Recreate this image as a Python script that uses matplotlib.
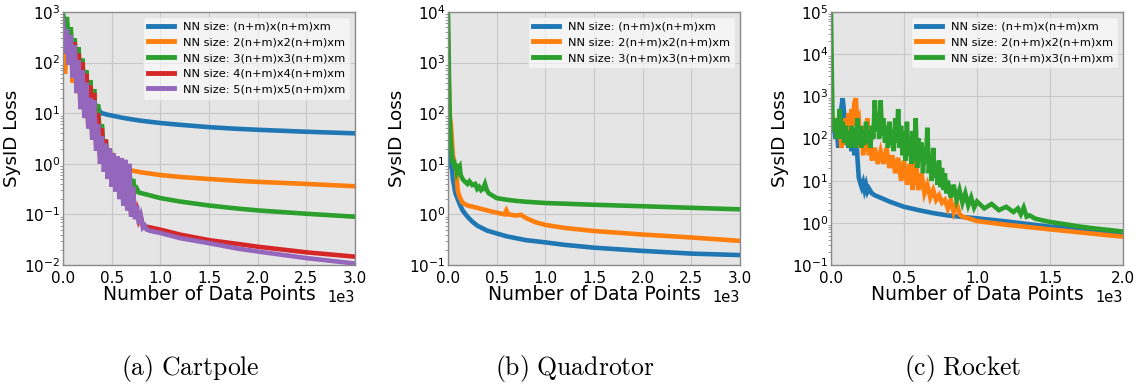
import numpy as np
import matplotlib
matplotlib.use("Agg")
import matplotlib.pyplot as plt
from matplotlib.ticker import MultipleLocator, LogLocator

plt.rcParams['font.family'] = ['DejaVu Sans']
plt.rcParams['mathtext.fontset'] = 'cm'

labels5 = ["NN size: (n+m)x(n+m)xm", "NN size: 2(n+m)x2(n+m)xm",
           "NN size: 3(n+m)x3(n+m)xm", "NN size: 4(n+m)x4(n+m)xm",
           "NN size: 5(n+m)x5(n+m)xm"]
colors = ["#1f77b4", "#ff7f0e", "#2ca02c", "#d62728", "#9467bd"]
captions = [r"$\mathrm{(a)\ Cartpole}$", r"$\mathrm{(b)\ Quadrotor}$", r"$\mathrm{(c)\ Rocket}$"]

# ---------------- Cartpole ----------------
cp_blue_x = [0, 20, 40, 60, 80, 100, 120, 140, 160, 180, 200, 220, 240, 260, 280, 300, 320, 340, 360, 380,
             400, 450, 500, 600, 700, 800, 1000, 1200, 1500, 1800, 2000, 2500, 3000]
cp_blue_y = [900, 300, 600, 150, 300, 80, 150, 50, 80, 35, 50, 25, 35, 18, 25, 14, 18, 12, 13, 10.5,
             10, 9.4, 9.0, 8.2, 7.6, 7.1, 6.4, 5.9, 5.3, 4.9, 4.7, 4.3, 4.0]

cp_orange_x = [0, 20, 40, 60, 80, 100, 120, 140, 160, 180, 200, 220, 240, 260, 280, 300, 320, 340, 360, 380,
               400, 420, 440, 460, 480, 500, 520, 540, 560, 580, 600, 620, 640,
               700, 800, 1000, 1200, 1500, 1800, 2000, 2500, 3000]
cp_orange_y = [400, 60, 250, 100, 400, 40, 150, 25, 80, 15, 40, 10, 25, 6, 15, 4, 10, 2.5, 5, 1.5,
               3, 1.2, 2, 1.0, 1.5, 0.9, 1.2, 0.85, 1.0, 0.82, 0.9, 0.8, 0.8,
               0.74, 0.68, 0.6, 0.55, 0.5, 0.46, 0.44, 0.4, 0.36]

cp_green_x = [0, 20, 40, 60, 80, 100, 120, 140, 160, 180, 200, 220, 240, 260, 280, 300, 320, 340, 360, 380,
              400, 420, 440, 460, 480, 500, 520, 540, 560, 580, 600, 620, 640, 660, 680, 700, 720, 740, 760, 780,
              850, 1000, 1200, 1500, 1800, 2000, 2500, 3000]
cp_green_y = [900, 300, 800, 200, 500, 100, 300, 60, 200, 40, 120, 25, 70, 15, 45, 10, 30, 6, 15, 3,
              6, 1.5, 3, 0.9, 2, 0.6, 1.5, 0.45, 1.2, 0.4, 1.1, 0.35, 1.0, 0.3, 0.8, 0.3, 0.5, 0.28, 0.32, 0.27,
              0.25, 0.21, 0.18, 0.15, 0.13, 0.12, 0.103, 0.09]

cp_red_x = [0, 20, 40, 60, 80, 100, 120, 140, 160, 180, 200, 220, 240, 260, 280, 300, 320, 340, 360, 380,
            400, 420, 440, 460, 480, 500, 520, 540, 560, 580, 600, 620, 640, 660, 680, 700, 720, 740, 760, 780,
            800, 820, 840, 900, 1000, 1200, 1500, 1800, 2000, 2500, 3000]
cp_red_y = [500, 200, 300, 150, 250, 70, 250, 40, 150, 20, 100, 15, 60, 12, 35, 6, 25, 3, 10, 2,
            5, 1.0, 3, 0.6, 2, 0.45, 1.5, 0.3, 1.2, 0.25, 1.2, 0.18, 1.1, 0.14, 0.8, 0.1, 0.3, 0.09, 0.12, 0.075,
            0.09, 0.06, 0.058, 0.055, 0.05, 0.04, 0.031, 0.026, 0.023, 0.0178, 0.0146]

cp_purple_x = [0, 20, 40, 60, 80, 100, 120, 140, 160, 180, 200, 220, 240, 260, 280, 300, 320, 340, 360, 380,
               400, 420, 440, 460, 480, 500, 520, 540, 560, 580, 600, 620, 640, 660, 680, 700, 720, 740, 760, 780,
               800, 820, 840, 860, 900, 1000, 1200, 1500, 1800, 2000, 2500, 3000]
cp_purple_y = [700, 150, 450, 90, 350, 50, 220, 25, 110, 12, 70, 8, 40, 5, 20, 3, 18, 1.8, 6, 1.0,
               3.5, 0.7, 2.5, 0.5, 2.0, 0.35, 1.6, 0.28, 1.4, 0.2, 1.3, 0.15, 1.2, 0.12, 1.0, 0.09, 0.35, 0.08, 0.15, 0.065,
               0.09, 0.055, 0.06, 0.05, 0.047, 0.043, 0.034, 0.027, 0.021, 0.0185, 0.0137, 0.0107]

# ---------------- Quadrotor ----------------
qd_blue_x = [0, 10, 20, 30, 40, 50, 60, 70, 80, 100, 120, 150, 200, 250, 300, 400, 500, 600, 800,
             1000, 1200, 1500, 2000, 2500, 3000]
qd_blue_y = [20, 12, 15, 8, 9, 5, 4, 3, 2.5, 2.0, 1.6, 1.2, 0.9, 0.72, 0.6, 0.48, 0.42, 0.37, 0.31,
             0.28, 0.25, 0.22, 0.19, 0.168, 0.157]

qd_orange_x = [0, 10, 20, 30, 40, 50, 60, 70, 80, 90, 100, 110, 130, 150, 200, 300, 400, 500, 580, 600, 620,
               700, 750, 800, 900, 1000, 1200, 1500, 2000, 2500, 3000]
qd_orange_y = [2500, 300, 80, 60, 30, 15, 12, 8, 10, 5, 3, 2.5, 2, 1.7, 1.5, 1.35, 1.2, 1.08, 1.0, 1.2, 1.0,
               0.95, 0.98, 0.85, 0.7, 0.62, 0.54, 0.47, 0.4, 0.35, 0.30]

qd_green_x = [0, 5, 10, 15, 20, 30, 40, 50, 60, 70, 80, 90, 100, 120, 130, 150, 170, 200, 220, 250, 280, 300,
              320, 340, 360, 380, 400, 420, 450, 500, 600, 700, 800, 1000, 1500, 2000, 2500, 3000]
qd_green_y = [10000, 3000, 500, 150, 60, 25, 15, 10, 12, 8, 10, 7, 8, 9, 6, 5, 4.5, 4, 4.5, 3.8, 4, 3.2,
              3.5, 3, 3.2, 4.0, 3.0, 2.6, 2.4, 2.1, 1.95, 1.85, 1.78, 1.68, 1.55, 1.45, 1.35, 1.26]

# ---------------- Rocket ----------------
rk_blue_x = [0, 10, 20, 30, 40, 50, 60, 70, 80, 90, 100, 110, 120, 130, 140, 150, 160, 170, 180, 190, 200,
             210, 220, 230, 240, 250, 260, 280, 300, 350, 400, 500, 600, 700, 800, 900, 1000, 1200, 1500,
             1800, 2000]
rk_blue_y = [250, 150, 200, 100, 150, 60, 150, 500, 900, 400, 100, 200, 60, 150, 50, 180, 40, 150, 40, 12, 9,
             7, 9, 6, 8, 5.5, 6.5, 5, 4.5, 3.8, 3.2, 2.4, 2.0, 1.7, 1.5, 1.38, 1.28, 1.08, 0.81,
             0.65, 0.56]

rk_orange_x = [0, 10, 20, 30, 40, 50, 60, 70, 80, 90, 100, 110, 120, 130, 140, 150, 160, 170, 180, 190, 200,
               210, 220, 230, 240, 250, 260, 270, 280, 300, 320, 340, 360, 380, 400, 420, 440, 460, 480, 500,
               520, 540, 560, 580, 590, 600, 620, 640, 660, 680, 700, 720, 740, 760, 780, 800, 820, 840, 860,
               880, 900, 950, 1000, 1200, 1500, 1800, 2000]
rk_orange_y = [300, 150, 250, 200, 300, 150, 250, 60, 100, 70, 300, 120, 400, 150, 500, 200, 700, 900, 250, 300, 60,
               150, 40, 200, 50, 300, 40, 80, 30, 60, 25, 50, 25, 60, 20, 40, 15, 35, 10, 30,
               8, 25, 6, 80, 10, 6, 15, 5, 8, 4, 6, 3.5, 4.5, 3, 3.5, 2.2, 3.5, 1.8, 3,
               1.6, 1.4, 1.25, 1.1, 0.9, 0.7, 0.55, 0.47]

rk_green_x = [0, 5, 10, 20, 30, 40, 50, 60, 70, 80, 90, 100, 110, 120, 130, 140, 150, 160, 170, 180, 190, 200,
              210, 220, 230, 240, 250, 260, 270, 280, 290, 300, 310, 320, 330, 340, 350, 360, 370, 380, 390, 400,
              410, 420, 430, 440, 450, 460, 470, 480, 490, 500, 510, 520, 530, 540, 550, 560, 570, 580, 590, 600,
              610, 620, 630, 640, 650, 660, 670, 680, 690, 700, 710, 720, 730, 740, 750, 760, 770, 780, 790, 800,
              820, 840, 860, 880, 900, 920, 940, 960, 980, 1000, 1050, 1100, 1150, 1200, 1250, 1280, 1300, 1320,
              1340, 1360, 1400, 1500, 1600, 1700, 1800, 1900, 2000]
rk_green_y = [100000, 5000, 300, 150, 300, 100, 200, 500, 100, 250, 80, 200, 70, 150, 60, 200, 80, 150, 60, 300, 70, 200,
              60, 150, 70, 250, 80, 150, 60, 200, 100, 800, 150, 400, 100, 800, 120, 300, 80, 200, 60, 250,
              70, 150, 50, 300, 80, 500, 60, 200, 40, 150, 30, 250, 40, 100, 25, 150, 30, 300, 20, 100,
              30, 80, 15, 60, 25, 180, 15, 40, 10, 60, 12, 25, 8, 30, 7, 20, 6, 15, 5, 10,
              4, 8, 3.5, 6, 3, 5, 2.6, 4, 2.3, 3.2, 2.2, 2.8, 2.0, 2.4, 1.8, 2.2, 1.6, 2.3,
              1.4, 1.5, 1.25, 1.05, 0.93, 0.82, 0.74, 0.68, 0.62]

panels = [
    ([(cp_blue_x, cp_blue_y), (cp_orange_x, cp_orange_y), (cp_green_x, cp_green_y),
      (cp_red_x, cp_red_y), (cp_purple_x, cp_purple_y)], 3000, (1e-2, 1e3)),
    ([(qd_blue_x, qd_blue_y), (qd_orange_x, qd_orange_y), (qd_green_x, qd_green_y)], 3000, (1e-1, 1e4)),
    ([(rk_blue_x, rk_blue_y), (rk_orange_x, rk_orange_y), (rk_green_x, rk_green_y)], 2000, (1e-1, 1e5)),
]

W, H = 1139, 385
fig = plt.figure(figsize=(W / 100, H / 100), dpi=100)
lefts = [63, 448, 831]
caption_x = [190, 575, 963]
for i, (series, xmax, ylim) in enumerate(panels):
    ax = fig.add_axes([lefts[i] / W, (H - 265) / H, 292 / W, 253 / H])
    ax.set_facecolor('#E5E5E5')
    for j, (xs, ys) in enumerate(series):
        ax.plot(xs, ys, color=colors[j], lw=3.3, label=labels5[j], solid_joinstyle='miter')
    ax.set_yscale('log')
    ax.set_xlim(0, xmax)
    ax.set_ylim(*ylim)
    ax.xaxis.set_major_locator(MultipleLocator(500))
    ax.yaxis.set_major_locator(LogLocator(base=10, numticks=20))
    ax.ticklabel_format(style='sci', axis='x', scilimits=(0, 0))
    ax.xaxis.get_offset_text().set_fontsize(10.5)
    ax.grid(True, which='major', color='#C8C8C8', lw=0.8)
    ax.set_axisbelow(True)
    for s in ax.spines.values():
        s.set_color('#8A8A8A')
        s.set_linewidth(1.0)
    ax.tick_params(axis='both', which='major', labelsize=11, length=0)
    ax.tick_params(axis='x', which='major', pad=4.5)
    ax.tick_params(axis='y', which='major', pad=2)
    ax.tick_params(axis='y', which='minor', length=2, color='#8A8A8A')
    ax.set_xlabel('Number of Data Points', fontsize=13.5, labelpad=-1)
    ax.set_ylabel('SysID Loss', fontsize=13.2, labelpad=2)
    leg = ax.legend(loc='upper right', fontsize=8.2, handlelength=2.3, labelspacing=0.5,
                    borderaxespad=0.4, borderpad=0.45, framealpha=0.6, facecolor='white',
                    edgecolor='#E0E0E0', fancybox=True)
    for ln in leg.get_lines():
        ln.set_linewidth(3.5)
    fig.text(caption_x[i] / W, 1 - 368 / H, captions[i], fontsize=18.5, ha='center', va='center')

fig.savefig('out.png', dpi=100)
